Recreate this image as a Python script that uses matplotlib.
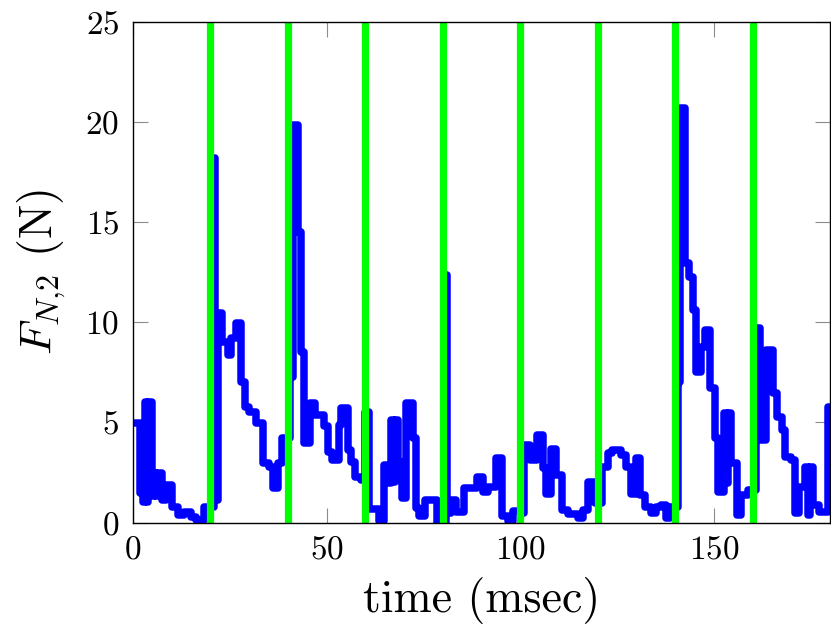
import matplotlib
matplotlib.use('Agg')
import matplotlib.pyplot as plt

# breakpoints of the force signal (msec) and its level after each breakpoint
t_ms = [0.0, 1.9, 2.5, 3.1, 3.5, 3.9, 5.0, 5.4, 6.0, 6.4, 7.6, 8.5, 10.0, 11.6,
        13.1, 15.0, 16.3, 18.3, 20.8, 21.0, 21.2, 22.0, 23.0, 24.5, 25.3, 26.6,
        28.0, 28.8, 30.0, 31.8, 33.6, 35.0, 36.2, 37.4, 38.5, 40.6, 41.2, 42.5,
        43.5, 44.2, 45.6, 47.0, 49.2, 50.3, 51.5, 53.3, 53.8, 55.5, 56.3, 57.3,
        59.0, 60.0, 60.9, 63.5, 64.9, 65.7, 66.7, 67.3, 67.7, 68.5, 69.4, 70.5,
        72.4, 73.2, 73.8, 75.5, 78.4, 80.9, 81.2, 82.2, 83.5, 85.4, 88.8, 90.4,
        91.8, 93.8, 95.3, 96.8, 98.2, 100.4, 101.0, 102.5, 104.4, 105.9, 106.6,
        107.9, 109.3, 110.8, 112.4, 114.9, 116.2, 117.6, 119.2, 120.8, 121.1,
        122.7, 123.7, 126.0, 127.2, 128.5, 129.8, 131.0, 132.3, 133.7, 135.0,
        136.3, 137.6, 138.7, 140.8, 141.3, 142.5, 143.6, 144.6, 145.5, 146.8,
        147.8, 149.0, 150.3, 151.1, 152.6, 153.3, 153.6, 154.4, 155.9, 157.0,
        158.8, 160.9, 162.0, 163.4, 165.3, 166.3, 167.5, 168.3, 170.0, 170.9,
        172.0, 173.6, 174.2, 174.8, 175.5, 177.1, 179.5, 180.0]
force_n = [4.95, 1.45, 1.0, 6.0, 1.0, 6.0, 1.3, 2.45, 1.3, 2.45, 1.1, 1.85, 0.75,
           0.35, 0.5, 0.25, 0.1, 0.75, 1.1, 18.2, 1.1, 10.45, 9.0, 8.35, 9.2, 9.95,
           7.0, 5.75, 5.5, 4.95, 2.95, 2.75, 1.7, 2.95, 4.2, 7.25, 19.85, 14.5,
           8.5, 3.95, 5.95, 5.35, 4.8, 3.5, 3.1, 4.85, 5.7, 3.6, 3.0, 2.25,
           2.1, 5.5, 0.65, 0.05, 2.85, 1.95, 5.1, 2.0, 5.1, 3.0, 1.2, 5.95,
           4.2, 0.7, 0.3, 1.1, 0.0, 12.35, 0.45, 1.1, 0.5, 1.7, 2.25, 1.5,
           1.75, 3.2, 0.3, 0.05, 0.55, 0.45, 3.85, 3.1, 4.35, 2.7, 1.4,
           3.65, 2.35, 0.6, 0.4, 0.2, 0.6, 2.0, 0.95, 0.95, 2.75,
           3.45, 3.6, 3.35, 2.75, 1.4, 3.2, 1.35, 0.75, 0.45, 0.75,
           0.85, 0.2, 0.75, 7.0, 20.7, 12.95, 12.25, 10.6, 7.5, 8.75,
           9.6, 6.7, 4.2, 1.5, 5.45, 1.95, 5.45, 2.95, 0.35, 1.35,
           1.6, 9.7, 4.1, 8.6, 6.45, 5.25, 4.6, 3.25, 3.1, 0.45,
           1.75, 2.75, 0.35, 2.75, 0.85, 0.5, 5.75, 5.75]

# instants marked with green lines
event_ms = [20, 40, 60, 80, 100, 120, 140, 160]

x_ticks = [0, 50, 100, 150]
y_ticks = [0, 5, 10, 15, 20, 25]

plt.rcParams['font.family'] = 'serif'
plt.rcParams['font.serif'] = ['cmr10']
plt.rcParams['mathtext.fontset'] = 'cm'
plt.rcParams['axes.formatter.use_mathtext'] = True

fig = plt.figure(figsize=(8.31, 6.42), dpi=100)
ax = fig.add_axes([133 / 831, 119.5 / 642, 697 / 831, 500.5 / 642])

ax.step(t_ms, force_n, where='post', color='#0000ff', lw=5.4,
        solid_joinstyle='round', zorder=2)
for ev in event_ms:
    ax.axvline(ev, color='#00ff00', lw=5.2, zorder=3)

ax.set_xlim(0, 180)
ax.set_ylim(0, 25)
ax.set_xticks(x_ticks)
ax.set_yticks(y_ticks)
ax.tick_params(direction='in', length=10.5, width=0.8, color='#8c8c8c',
               top=True, right=True, labelsize=24)
ax.tick_params(axis='x', pad=9)
ax.tick_params(axis='y', pad=10)
for sp in ax.spines.values():
    sp.set_linewidth(1.0)
    sp.set_zorder(4)

ax.set_xlabel('time (msec)', fontsize=33, labelpad=9)
ax.set_ylabel(r'$F_{N{,}2}$ (N)', fontsize=33, labelpad=12)

fig.savefig('out.png', dpi=100)
